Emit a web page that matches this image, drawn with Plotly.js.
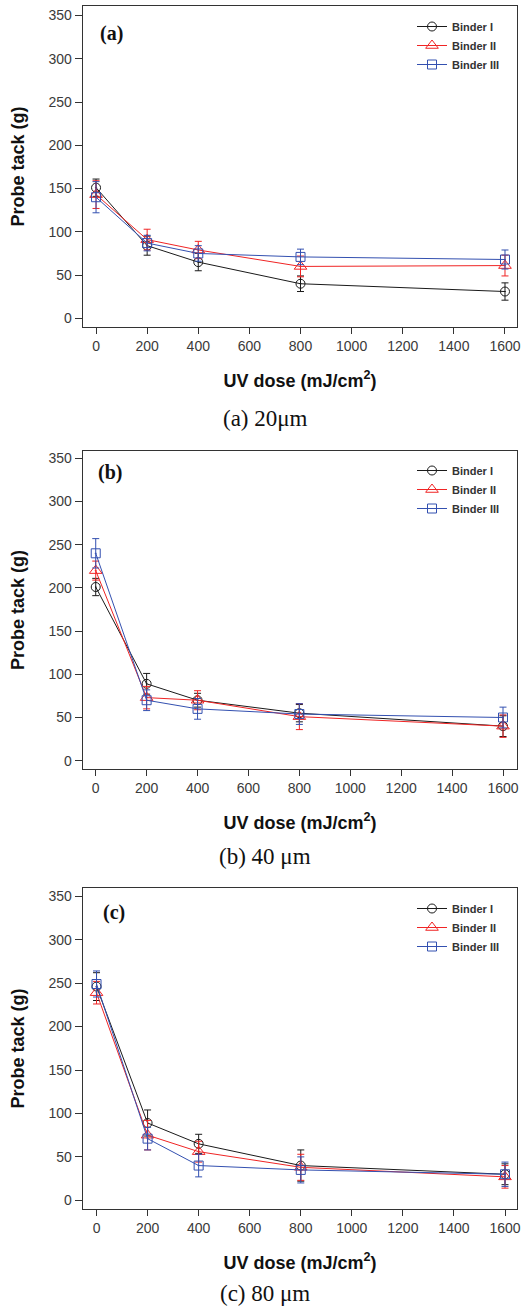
<!DOCTYPE html>
<html>
<head>
<meta charset="utf-8">
<script src="https://cdn.plot.ly/plotly-3.0.1.min.js"></script>
<style>
html,body{margin:0;padding:0;background:#fff;}
#chart{width:524px;height:1307px;}
</style>
</head>
<body>
<div id="chart"></div>
<script>
// ---- data ----
const dose = [0, 200, 400, 800, 1600];
const seriesNames = ['Binder I', 'Binder II', 'Binder III'];

const a_I = [151, 84, 65, 40, 31];
const a_I_err = [10, 11, 10, 9, 10];
const a_II = [143, 91, 79, 60, 61];
const a_II_err = [16, 12, 10, 12, 12];
const a_III = [140, 87, 75, 71, 68];
const a_III_err = [18, 9, 9, 9, 11];

const b_I = [201, 89, 70, 55, 40];
const b_I_err = [10, 12, 8, 10, 12];
const b_II = [220, 73, 70, 51, 40];
const b_II_err = [11, 13, 11, 15, 13];
const b_III = [240, 70, 60, 54, 50];
const b_III_err = [17, 12, 12, 12, 12];

const c_I = [246, 89, 65, 40, 30];
const c_I_err = [16, 15, 11, 18, 12];
const c_II = [239, 75, 56, 38, 27];
const c_II_err = [13, 17, 12, 15, 13];
const c_III = [249, 71, 40, 35, 30];
const c_III_err = [15, 13, 13, 15, 14];

const panelLabels = ['(a)', '(b)', '(c)'];
const captions = ['(a) 20\u03bcm', '(b) 40 \u03bcm', '(c) 80 \u03bcm'];
const xTitle = 'UV dose (mJ/cm<sup>2</sup>)';
const yTitle = 'Probe tack (g)';

// ---- styles ----
const W = 524, H = 1307;
const colors = ['#1a1a1a', '#f02424', '#3350b0'];
const symbols = ['circle-open-dot', 'triangle-up-open-dot', 'square-open-dot'];
const msizes = [9, 11, 9];

const panels = [
  {vals: [a_I, a_II, a_III], errs: [a_I_err, a_II_err, a_III_err], top: 6, bot: 327, legTop: 12, lab: [111, 33], cap: 418, xr: [-51, 1647], yr: [-10, 361]},
  {vals: [b_I, b_II, b_III], errs: [b_I_err, b_II_err, b_III_err], top: 451, bot: 769, legTop: 456, lab: [110, 473], cap: 856, xr: [-50, 1655], yr: [-9.6, 358.4]},
  {vals: [c_I, c_II, c_III], errs: [c_I_err, c_II_err, c_III_err], top: 888, bot: 1209, legTop: 894, lab: [114, 912], cap: 1293, xr: [-53, 1647], yr: [-10, 359.5]}
];

const traces = [];
const layout = {
  width: W, height: H,
  margin: {l: 0, r: 0, t: 0, b: 0},
  paper_bgcolor: '#fff', plot_bgcolor: '#fff',
  font: {family: 'Liberation Sans, Arial, sans-serif', color: '#333'},
  annotations: []
};

panels.forEach((p, i) => {
  const n = i === 0 ? '' : String(i + 1);
  const legName = 'legend' + n;
  for (let s = 0; s < 3; s++) {
    traces.push({
      type: 'scatter', mode: 'lines+markers',
      x: dose, y: p.vals[s],
      name: seriesNames[s],
      xaxis: 'x' + n, yaxis: 'y' + n,
      legend: legName,
      line: {color: colors[s], width: 1},
      marker: {symbol: symbols[s], size: msizes[s], color: colors[s], line: {width: 1, color: colors[s]}},
      error_y: {type: 'data', array: p.errs[s], visible: true, color: colors[s], thickness: 1, width: 3.5}
    });
  }
  const yd = [1 - p.bot / H, 1 - p.top / H];
  layout['xaxis' + n] = {
    domain: [83 / W, 517 / W], anchor: 'y' + n,
    range: p.xr, tickvals: [0, 200, 400, 600, 800, 1000, 1200, 1400, 1600],
    ticks: 'outside', ticklen: 6, tickcolor: '#333', tickwidth: 1,
    showline: true, mirror: true, linecolor: '#333', linewidth: 1.3,
    showgrid: false, zeroline: false,
    tickfont: {size: 14, color: '#3a3a3a'},
    title: {text: xTitle, standoff: 21, font: {size: 18, color: '#111', family: 'Liberation Sans, Arial, sans-serif', weight: 'bold'}}
  };
  layout['yaxis' + n] = {
    domain: yd, anchor: 'x' + n,
    range: p.yr, tickvals: [0, 50, 100, 150, 200, 250, 300, 350],
    ticks: 'outside', ticklen: 7, tickcolor: '#333', tickwidth: 1,
    showline: true, mirror: true, linecolor: '#333', linewidth: 1.3,
    showgrid: false, zeroline: false,
    tickfont: {size: 14, color: '#3a3a3a'},
    title: {text: yTitle, standoff: 19, font: {size: 18, color: '#111', family: 'Liberation Sans, Arial, sans-serif', weight: 'bold'}}
  };
  layout[legName] = {
    x: 412 / W, xanchor: 'left', y: 1 - p.legTop / H, yanchor: 'top',
    bgcolor: 'rgba(0,0,0,0)', borderwidth: 0,
    font: {size: 11, color: '#333', family: 'Liberation Sans, Arial, sans-serif', weight: 'bold'},
    tracegroupgap: 0
  };
  layout.annotations.push({
    xref: 'paper', yref: 'paper', x: p.lab[0] / W, y: 1 - p.lab[1] / H,
    xanchor: 'center', yanchor: 'middle', showarrow: false,
    text: '<b>' + panelLabels[i] + '</b>',
    font: {family: 'Liberation Serif, Times New Roman, serif', size: 20, color: '#111'}
  });
  layout.annotations.push({
    xref: 'paper', yref: 'paper', x: 265 / W, y: 1 - p.cap / H,
    xanchor: 'center', yanchor: 'middle', showarrow: false,
    text: captions[i],
    font: {family: 'Liberation Serif, Times New Roman, serif', size: 23, color: '#111'}
  });
});

Plotly.newPlot('chart', traces, layout, {displayModeBar: false, staticPlot: true});
</script>
</body>
</html>
